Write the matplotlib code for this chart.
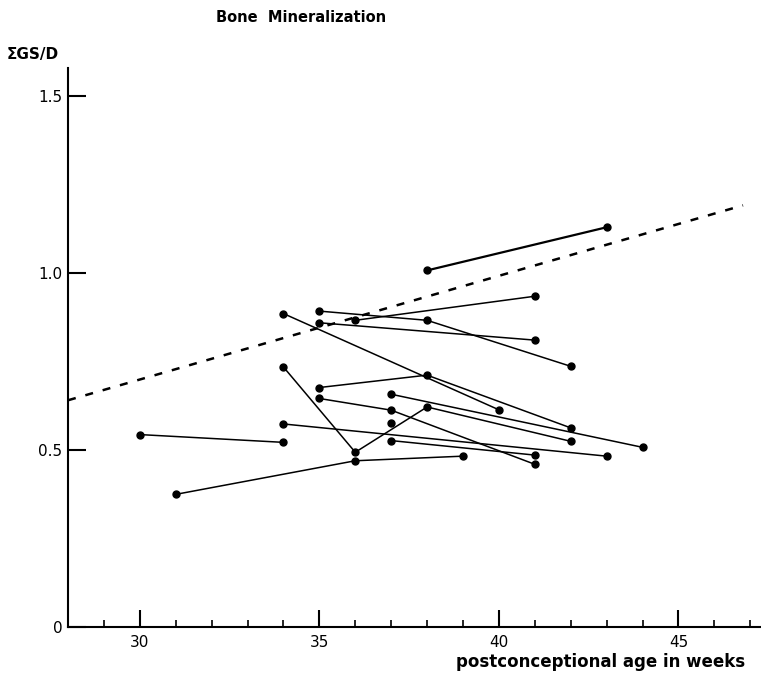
import matplotlib
matplotlib.use('Agg')
import matplotlib.pyplot as plt

# Each infant: weeks of postconceptional age and measured value
semanas_1 = [38, 43]
valores_1 = [1.008, 1.13]
semanas_2 = [36, 41]
valores_2 = [0.867, 0.935]
semanas_3 = [35, 38, 42]
valores_3 = [0.893, 0.867, 0.737]
semanas_4 = [35, 41]
valores_4 = [0.86, 0.811]
semanas_5 = [34, 40]
valores_5 = [0.886, 0.614]
semanas_6 = [35, 38, 42]
valores_6 = [0.677, 0.712, 0.563]
semanas_7 = [37, 44]
valores_7 = [0.658, 0.508]
semanas_8 = [34, 36, 38, 42]
valores_8 = [0.735, 0.494, 0.622, 0.525]
semanas_9 = [35, 37, 41]
valores_9 = [0.646, 0.613, 0.46]
semanas_10 = [34, 43]
valores_10 = [0.574, 0.483]
semanas_11 = [37, 41]
valores_11 = [0.527, 0.486]
semanas_12 = [31, 36, 39]
valores_12 = [0.375, 0.47, 0.483]
semanas_13 = [30, 34]
valores_13 = [0.544, 0.522]
semanas_14 = [37]
valores_14 = [0.576]

# Dashed reference line
ref_semanas = [28, 46.8]
ref_valores = [0.641, 1.192]

series = [
    (semanas_1, valores_1), (semanas_2, valores_2), (semanas_3, valores_3),
    (semanas_4, valores_4), (semanas_5, valores_5), (semanas_6, valores_6),
    (semanas_7, valores_7), (semanas_8, valores_8), (semanas_9, valores_9),
    (semanas_10, valores_10), (semanas_11, valores_11), (semanas_12, valores_12),
    (semanas_13, valores_13), (semanas_14, valores_14),
]

major_ticks = [30, 35, 40, 45]
minor_ticks = list(range(29, 48))
y_ticks = [0, 0.5, 1.0, 1.5]
y_labels = ['0', '0.5', '1.0', '1.5']

fig = plt.figure(figsize=(7.61, 6.82), dpi=100)
ax = fig.add_axes([0.0894, 0.0806, 0.9106, 0.8196])

ax.plot(ref_semanas, ref_valores, color='black', linewidth=1.8,
        linestyle=(0, (3.2, 4.0)))

for i, (sem, val) in enumerate(series):
    lw = 1.6 if i == 0 else 1.1
    ax.plot(sem, val, color='black', linewidth=lw, marker='o',
            markersize=5, markerfacecolor='black', markeredgecolor='black')

ax.set_xlim(28, 47.3)
ax.set_ylim(0, 1.58)

ax.spines['top'].set_visible(False)
ax.spines['right'].set_visible(False)
ax.spines['left'].set_linewidth(1.5)
ax.spines['bottom'].set_linewidth(1.5)

ax.set_xticks(major_ticks)
ax.set_xticks(minor_ticks, minor=True)
ax.set_yticks(y_ticks)
ax.set_yticklabels(y_labels)
ax.tick_params(axis='x', which='major', direction='in', length=12, width=1.5,
               labelsize=11, pad=6)
ax.tick_params(axis='x', which='minor', direction='in', length=5, width=1.2)
ax.tick_params(axis='y', which='major', direction='in', length=13, width=1.5,
               labelsize=11, pad=4)

# Texts around the chart
fig.text(301 / 761, 1 - 18 / 682, 'Bone  Mineralization', ha='center', va='center',
         fontsize=10.5, fontweight='bold')
fig.text(7 / 761, 1 - 55 / 682, '\u03a3GS/D', ha='left', va='center',
         fontsize=11, fontweight='bold')
fig.text(745 / 761, 1 - 662 / 682, 'postconceptional age in weeks', ha='right',
         va='center', fontsize=12, fontweight='bold')

plt.savefig('out.png', dpi=100)
